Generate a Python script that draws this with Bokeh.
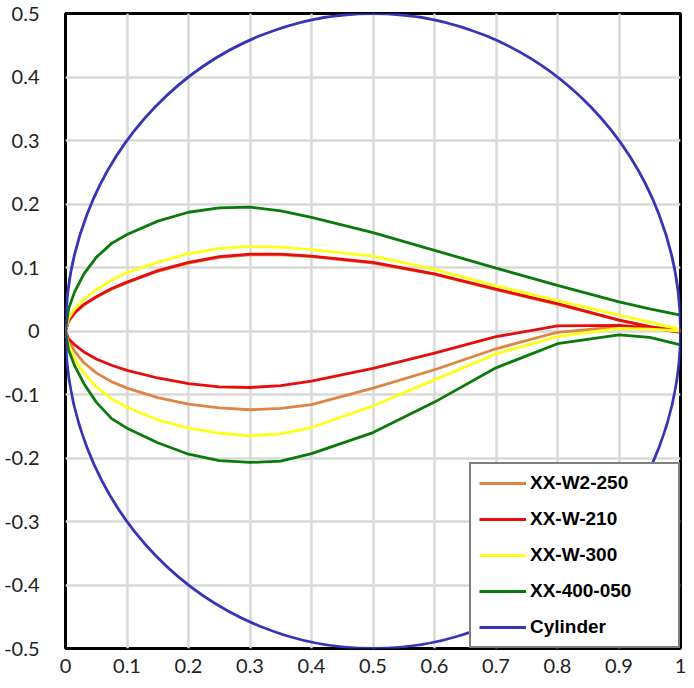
from bokeh.plotting import figure
from bokeh.models import FixedTicker, NumeralTickFormatter, Legend, LegendItem, Range1d
from bokeh.embed import file_html
from bokeh.resources import INLINE

# chord stations shared by all profiles
x_stations = [0, 0.005, 0.015, 0.03, 0.05, 0.075, 0.1, 0.15, 0.2, 0.25,
              0.3, 0.35, 0.4, 0.5, 0.6, 0.7, 0.8, 0.9, 0.95, 1.0]

# XX-W2-250
w2_250_upper = [0, 0.015, 0.028, 0.041, 0.053, 0.066, 0.076, 0.094, 0.107, 0.116,
                0.120, 0.120, 0.117, 0.107, 0.089, 0.065, 0.042, 0.017, 0.007, 0.0]
w2_250_lower = [0, -0.016, -0.032, -0.050, -0.066, -0.080, -0.090, -0.105, -0.115, -0.121,
                -0.124, -0.122, -0.116, -0.090, -0.061, -0.028, -0.002, 0.007, 0.004, 0.0]

# XX-W-210
w_210_upper = [0, 0.016, 0.029, 0.042, 0.054, 0.067, 0.077, 0.095, 0.108, 0.117,
               0.121, 0.121, 0.118, 0.108, 0.090, 0.066, 0.043, 0.017, 0.007, -0.001]
w_210_lower = [0, -0.012, -0.022, -0.033, -0.044, -0.054, -0.062, -0.074, -0.083, -0.088,
               -0.089, -0.086, -0.079, -0.059, -0.035, -0.009, 0.008, 0.009, 0.005, -0.002]

# XX-W-300
w_300_upper = [0, 0.020, 0.035, 0.050, 0.065, 0.080, 0.092, 0.108, 0.122, 0.130,
               0.133, 0.132, 0.128, 0.118, 0.097, 0.071, 0.048, 0.025, 0.014, 0.003]
w_300_lower = [0, -0.022, -0.044, -0.066, -0.088, -0.107, -0.120, -0.140, -0.153, -0.161,
               -0.165, -0.162, -0.152, -0.118, -0.077, -0.036, -0.009, 0.004, 0.003, 0.0]

# XX-400-050
s400_050_upper = [0, 0.035, 0.062, 0.090, 0.116, 0.138, 0.152, 0.173, 0.187, 0.194,
                  0.195, 0.189, 0.179, 0.155, 0.127, 0.099, 0.072, 0.046, 0.035, 0.025]
s400_050_lower = [0, -0.030, -0.055, -0.083, -0.112, -0.138, -0.153, -0.176, -0.194, -0.204,
                  -0.207, -0.205, -0.193, -0.160, -0.112, -0.058, -0.020, -0.006, -0.010, -0.022]

# Cylinder (centre and diameter)
cyl_x = [0.5]
cyl_y = [0.0]
cyl_d = [1.0]

x_ticks = [0, 0.1, 0.2, 0.3, 0.4, 0.5, 0.6, 0.7, 0.8, 0.9, 1.0]
y_ticks = [-0.5, -0.4, -0.3, -0.2, -0.1, 0, 0.1, 0.2, 0.3, 0.4, 0.5]

series = [
    ("XX-W2-250", w2_250_upper, w2_250_lower, "#DE8544"),
    ("XX-W-210", w_210_upper, w_210_lower, "#E80C0C"),
    ("XX-W-300", w_300_upper, w_300_lower, "#FFFF1A"),
    ("XX-400-050", s400_050_upper, s400_050_lower, "#0B7A0B"),
]
CYL_COLOR = "#3535B5"

p = figure(width=686, height=680,
           output_backend="svg", toolbar_location=None,
           x_range=Range1d(0, 1), y_range=Range1d(-0.5, 0.5),
           min_border_left=65, min_border_right=6,
           min_border_top=13, min_border_bottom=32)

p.outline_line_color = "black"
p.outline_line_width = 3
p.background_fill_color = "white"

p.xaxis.ticker = FixedTicker(ticks=x_ticks)
p.yaxis.ticker = FixedTicker(ticks=y_ticks)
p.xgrid.ticker = FixedTicker(ticks=x_ticks)
p.ygrid.ticker = FixedTicker(ticks=y_ticks)
p.grid.grid_line_color = "#D9D9D9"
p.grid.grid_line_width = 2.5

for ax in (p.xaxis, p.yaxis):
    ax.formatter = NumeralTickFormatter(format="0.[0]")
    ax.axis_line_color = None
    ax.major_tick_line_color = None
    ax.minor_tick_line_color = None
    ax.major_tick_out = 0
    ax.major_tick_in = 0
    ax.major_label_text_font = "Lato"
    ax.major_label_text_font_size = "20px"
    ax.major_label_text_color = "#222222"
p.xaxis.major_label_standoff = 10
p.yaxis.major_label_standoff = 26

items = []
for name, upper, lower, color in series:
    # closed contour: trailing edge -> upper -> leading edge -> lower -> trailing edge
    xs = x_stations[::-1] + x_stations[1:]
    ys = upper[::-1] + lower[1:]
    r = p.line(xs, ys, line_color=color, line_width=2.8)
    items.append(LegendItem(label=name, renderers=[r]))

p.ellipse(x=cyl_x, y=cyl_y, width=cyl_d, height=cyl_d,
          fill_color=None, line_color=CYL_COLOR, line_width=2.8)
# single-point line, only used as the legend key for the cylinder
cyl_key = p.line(x=cyl_x, y=cyl_y, line_color=CYL_COLOR, line_width=2.8)
items.append(LegendItem(label="Cylinder", renderers=[cyl_key]))

legend = Legend(items=items, location="bottom_right")
legend.margin = 0
legend.padding = 8
legend.spacing = 14
legend.glyph_width = 47
legend.glyph_height = 20
legend.label_height = 20
legend.label_standoff = 4
legend.label_width = 140
legend.label_text_font = "Liberation Sans"
legend.label_text_font_style = "bold"
legend.label_text_font_size = "19px"
legend.label_text_color = "black"
legend.border_line_color = "black"
legend.border_line_width = 2.5
legend.background_fill_alpha = 1
p.add_layout(legend, "center")

open("out.html", "w").write(file_html(p, INLINE))
